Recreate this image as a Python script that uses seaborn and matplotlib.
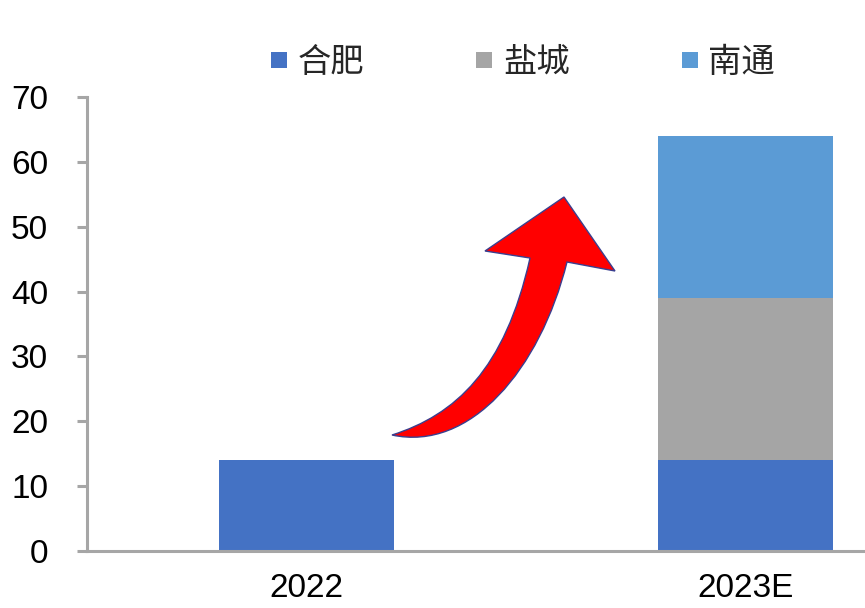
import matplotlib
matplotlib.use("Agg")
import matplotlib.pyplot as plt
import seaborn as sns
import pandas as pd
from matplotlib.path import Path
from matplotlib.patches import PathPatch
from matplotlib.lines import Line2D

categories = ["2022", "2023E"]
hefei = [14, 14]
yancheng = [0, 25]
nantong = [0, 25]
series_names = ["合肥", "盐城", "南通"]
colors = ["#4472C4", "#A5A5A5", "#5B9BD5"]
yticks = [0, 10, 20, 30, 40, 50, 60, 70]

sns.set_theme(style="white")
plt.rcParams['font.family'] = ['Liberation Sans', 'Noto Sans CJK SC']

W, H = 865, 608
fig = plt.figure(figsize=(W / 100, H / 100), dpi=100)
ax = fig.add_axes([87 / W, 1 - 551 / H, 878 / W, (551 - 97) / H])

df = pd.DataFrame({"cat": categories, "hefei": hefei, "yancheng": yancheng, "nantong": nantong})
bottom1 = df["hefei"].values
bottom2 = bottom1 + df["yancheng"].values
sns.barplot(data=df, x="cat", y="hefei", color=colors[0], width=0.4, ax=ax,
            saturation=1, linewidth=0)
sns.barplot(data=df, x="cat", y="yancheng", color=colors[1], width=0.4, ax=ax,
            saturation=1, linewidth=0, bottom=bottom1)
sns.barplot(data=df, x="cat", y="nantong", color=colors[2], width=0.4, ax=ax,
            saturation=1, linewidth=0, bottom=bottom2)

ax.set_xlim(-0.5, 1.5)
ax.set_ylim(0, 70)
ax.set_yticks(yticks)
ax.set_xlabel("")
ax.set_ylabel("")
for s in ["top", "right"]:
    ax.spines[s].set_visible(False)
for s in ["left", "bottom"]:
    ax.spines[s].set_color("#A6A6A6")
    ax.spines[s].set_linewidth(2.2)
ax.tick_params(axis="y", left=True, length=7, width=2.2, color="#A6A6A6",
               labelsize=24, pad=21, labelcolor="black")
ax.tick_params(axis="x", bottom=False, length=0, labelsize=24, pad=16, labelcolor="black")

handles = [Line2D([0], [0], marker="s", linestyle="none", markersize=12,
                  markerfacecolor=c, markeredgewidth=0) for c in colors]
fig.legend(handles, series_names, loc="center", bbox_to_anchor=(522 / W, 1 - 63 / H),
           ncol=3, frameon=False, fontsize=24, handlelength=0.6, handletextpad=0.25,
           columnspacing=3.3)

# decorative curved red arrow (figure pixel coords, y from top)
def P(x, y):
    return (x / W, 1 - y / H)

verts = [
    P(392, 435),
    P(470, 452), P(540, 370), P(567, 262),   # outer edge curve
    P(615, 271),                              # right barb
    P(564, 197),                              # tip
    P(485, 251),                              # left barb
    P(530, 258),                              # inner corner
    P(505, 370), P(455, 415), P(392, 435),   # inner edge curve
    P(392, 435),
]
codes = [Path.MOVETO, Path.CURVE4, Path.CURVE4, Path.CURVE4,
         Path.LINETO, Path.LINETO, Path.LINETO, Path.LINETO,
         Path.CURVE4, Path.CURVE4, Path.CURVE4, Path.CLOSEPOLY]
arrow = PathPatch(Path(verts, codes), facecolor="#FF0000", edgecolor="#3A3F8F",
                  linewidth=1.0, transform=fig.transFigure, zorder=5)
fig.patches.append(arrow)

fig.savefig("out.png", dpi=100)
